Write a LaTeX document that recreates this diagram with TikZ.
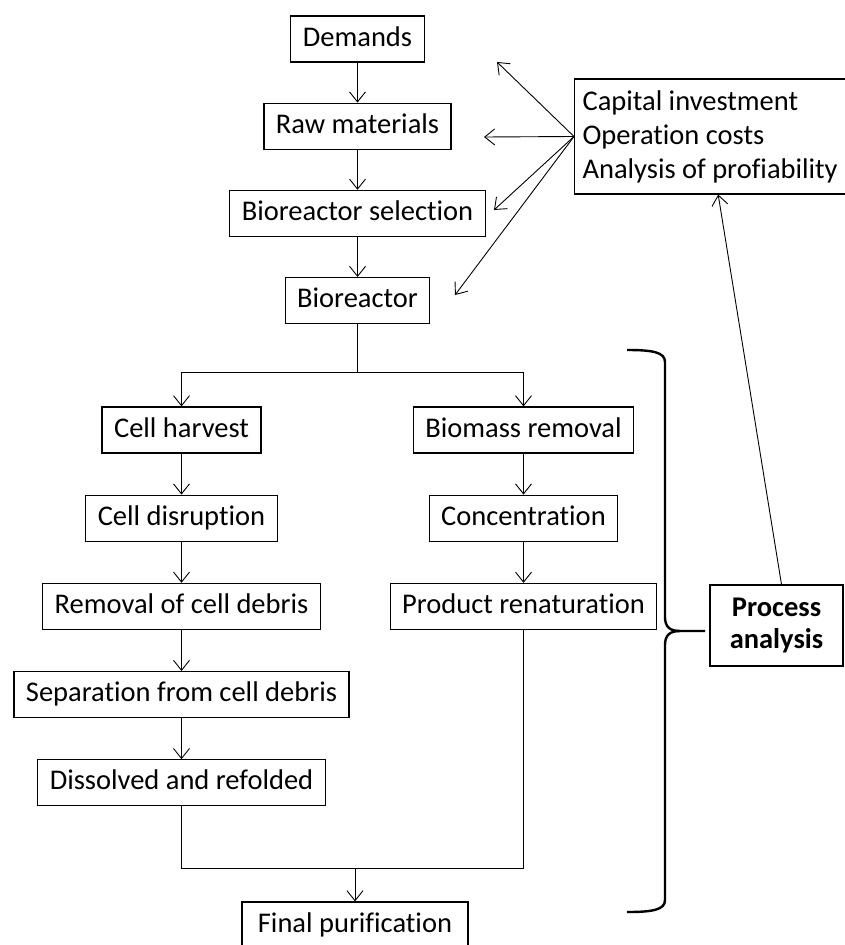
\documentclass[tikz,border=0pt]{standalone}
\usepackage{fontspec}
\setmainfont{Carlito}[Ligatures=NoCommon]
\usetikzlibrary{arrows.meta,positioning}

\begin{document}
\begin{tikzpicture}[
  x=1pt, y=-1pt,
  node distance=41pt,
  >={Straight Barb[length=10pt,width=16pt]},
  stepbox/.style={rectangle, draw, line width=1.2pt, minimum height=46pt, inner xsep=12pt, text height=20pt, text depth=6pt, font=\fontsize{28.5}{34}\selectfont},
  notebox/.style={rectangle, draw, line width=1.2pt, inner xsep=12pt, inner ysep=10pt, font=\fontsize{28.5}{34}\selectfont},
  arrow/.style={->, line width=0.9pt}
]
\fill[white] (0,0) rectangle (844,945);
\useasboundingbox (0,0) rectangle (844,945);

% main line
\node[stepbox] (dem) at (357.5,39) {Demands};
\node[stepbox, below=40pt of dem] (raw) {Raw materials};
\node[stepbox, below=40pt of raw] (sel) {Bioreactor selection};
\node[stepbox, below=40pt of sel] (bio) {Bioreactor};

% left branch
\node[stepbox] (ch) at (181.5,430) {Cell harvest};
\node[stepbox, below=of ch] (cd) {Cell disruption};
\node[stepbox, below=of cd] (rcd) {Removal of cell debris};
\node[stepbox, below=of rcd] (sep) {Separation from cell debris};
\node[stepbox, below=of sep] (dis) {Dissolved and refolded};

% right branch
\node[stepbox] (bm) at (523.5,430) {Biomass removal};
\node[stepbox, below=of bm] (conc) {Concentration};
\node[stepbox, below=of conc] (pr) {Product renaturation};

\node[stepbox, minimum width=226pt] (fin) at (355,925) {Final purification};

% costs and analysis
\node[notebox, anchor=west, align=left, inner xsep=8pt, minimum height=115pt] (cost) at (574,136.5) {Capital investment\\Operation costs\\Analysis of profiability};
\node[notebox, align=center, minimum width=133pt, minimum height=81pt, font=\fontsize{28.5}{32}\selectfont\bfseries] (pa) at (776.5,625.5) {Process\\analysis};

\coordinate (t1) at (497,62);
\coordinate (t2) at (484,137);
\coordinate (t3) at (494,210);
\coordinate (t4) at (455,295);

\draw[arrow] (dem) -- (raw);
\draw[arrow] (raw) -- (sel);
\draw[arrow] (sel) -- (bio);
\draw[line width=0.9pt] (bio.south) -- ++(0,48) coordinate (split);
\draw[arrow] (split) -| (ch.north);
\draw[arrow] (split) -| (bm.north);
\draw[arrow] (ch) -- (cd);
\draw[arrow] (cd) -- (rcd);
\draw[arrow] (rcd) -- (sep);
\draw[arrow] (sep) -- (dis);
\draw[arrow] (bm) -- (conc);
\draw[arrow] (conc) -- (pr);
\draw[line width=0.9pt] (dis.south) -- ++(0,62) coordinate (join) -| (pr.south);
\draw[arrow] (fin.north |- join) -- (fin.north);

\draw[arrow] (cost.west) -- (t1);
\draw[arrow] (cost.west) -- (t2);
\draw[arrow] (cost.west) -- (t3);
\draw[arrow] (cost.west) -- (t4);
\draw[arrow] ([xshift=5pt]pa.north) -- ([xshift=8pt]cost.south);

% brace
\draw[line width=2.4pt] (627,350) .. controls (652,350) and (665,352) .. (665,362) -- (665,617) .. controls (665,627) and (670,631) .. (680,631) -- (705,631);
\draw[line width=2.4pt] (680,631) .. controls (670,631) and (665,635) .. (665,645) -- (665,900) .. controls (665,910) and (652,912) .. (627,912);
\end{tikzpicture}
\end{document}
